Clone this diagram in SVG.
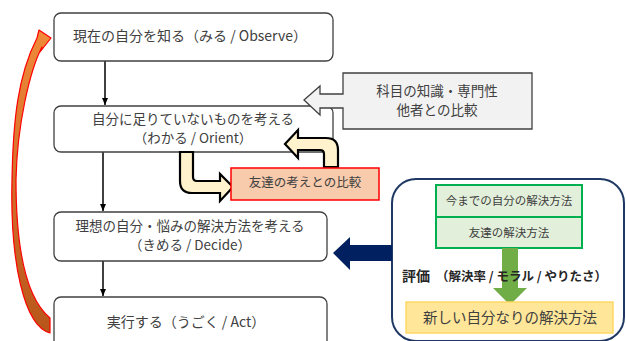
<svg xmlns="http://www.w3.org/2000/svg" width="626" height="341" viewBox="0 0 626 341">
<defs>
<style>
.box{fill:#fff;stroke:#404040;stroke-width:1.3}
.t{font-family:"Noto Sans CJK JP","Noto Sans",sans-serif;fill:#404040;text-anchor:middle}
.t14{font-size:14px}
.t135{font-size:13.5px}
.conn{stroke:#000;stroke-width:1.5;fill:none}
.uarrow{fill:#fff2cc;stroke:#000;stroke-width:2.2;stroke-linejoin:miter}
.green{fill:#e2efda;stroke:#00b050;stroke-width:2}
</style>
<marker id="ah" markerWidth="8" markerHeight="8" refX="7" refY="4" orient="auto" markerUnits="userSpaceOnUse">
<path d="M0,1 L7,4 L0,7 Z" fill="#000"/>
</marker>
<linearGradient id="og" x1="0" y1="0" x2="0" y2="1">
<stop offset="0" stop-color="#f08a3a"/>
<stop offset="1" stop-color="#b8551a"/>
</linearGradient>
</defs>

<g id="connectors">
<line class="conn" x1="105" y1="61" x2="105" y2="105" marker-end="url(#ah)"/>
<line class="conn" x1="103" y1="152" x2="103" y2="211" marker-end="url(#ah)"/>
<line class="conn" x1="103" y1="261" x2="103" y2="296" marker-end="url(#ah)"/>
</g>

<g id="observe">
<rect class="box" x="54" y="13" width="279" height="48" rx="7"/>
<text class="t t14" x="190" y="41">現在の自分を知る（みる / Observe）</text>
</g>
<g id="orient">
<rect class="box" x="54" y="106" width="279" height="46" rx="7"/>
<text class="t t135" x="193" y="124">自分に足りていないものを考える</text>
<text class="t t135" x="193" y="143">（わかる / Orient）</text>
</g>
<g id="decide">
<rect class="box" x="54" y="212" width="273" height="49" rx="7"/>
<text class="t t135" x="190" y="231">理想の自分・悩みの解決方法を考える</text>
<text class="t t135" x="190" y="250">（きめる / Decide）</text>
</g>
<g id="act">
<rect class="box" x="54" y="297" width="273" height="60" rx="7"/>
<text class="t t14" x="186" y="327">実行する（うごく / Act）</text>
</g>

<g id="loop-arrow">
<path d="M50,333 C24,326 10,262 12,180 C13,120 18,75 37,38 L39,30 L51,38 L40,52 L42,47 C30,70 17,125 16,180 C16,250 26,298 50,318 Z" fill="url(#og)" stroke="#ff0000" stroke-width="1.2" stroke-linejoin="round"/>
</g>

<g id="knowledge">
<path d="M304,100 L320,86 L320,94 L343,94 L343,73 L532,73 L532,129 L343,129 L343,108 L320,108 L320,115 Z" fill="#f2f2f2" stroke="#404040" stroke-width="1.3"/>
<text class="t t135" x="437" y="96">科目の知識・専門性</text>
<text class="t t135" x="437" y="115">他者との比較</text>
</g>

<g id="u-arrows">
<path class="uarrow" d="M180,152 L180,181 Q180,193 192,193 L220,193 L220,201 L233,187 L220,174 L220,181 L197,181 Q193,181 193,177 L193,152 Z"/>
<path class="uarrow" d="M324,167 L324,154 Q324,150 320,150 L298,150 L298,158 L285,144 L298,130 L298,138 L326,138 Q338,138 338,150 L338,167 Z"/>
</g>

<g id="friends-compare">
<rect x="231" y="168" width="148" height="32" fill="#f8cbad" stroke="#ff0000" stroke-width="1.5"/>
<text class="t" font-size="12.5" x="305" y="187">友達の考えとの比較</text>
</g>

<g id="eval-panel">
<rect x="392" y="179" width="232" height="162" rx="24" fill="#fff" stroke="#1f3864" stroke-width="2"/>
<path d="M392,245 L350,245 L350,237 L333,253 L350,270 L350,261 L392,261 Z" fill="#002060"/>
</g>

<g id="own-methods">
<rect class="green" x="436" y="185" width="146" height="32"/>
<text class="t" font-size="11.5" x="509" y="205">今までの自分の解決方法</text>
</g>
<g id="friend-methods">
<rect class="green" x="436" y="217" width="146" height="31"/>
<text class="t" font-size="11.5" x="509" y="237">友達の解決方法</text>
</g>

<g id="green-arrow">
<path d="M502,248 L518,248 L518,288 L527,288 L510,305 L493,288 L502,288 Z" fill="#70ad47"/>
</g>

<g id="evaluation">
<text font-family="'Noto Sans CJK JP','Noto Sans',sans-serif" font-weight="bold" fill="#262626" y="281"><tspan x="402" font-size="14">評価</tspan><tspan x="436" font-size="12.5">（解決率 / モラル / やりたさ）</tspan></text>
</g>

<g id="new-method">
<rect x="406" y="302" width="207" height="31" fill="#ffe699" stroke="#ffd966" stroke-width="1.5"/>
<text class="t" font-size="14.5" x="510" y="323">新しい自分なりの解決方法</text>
</g>
</svg>
